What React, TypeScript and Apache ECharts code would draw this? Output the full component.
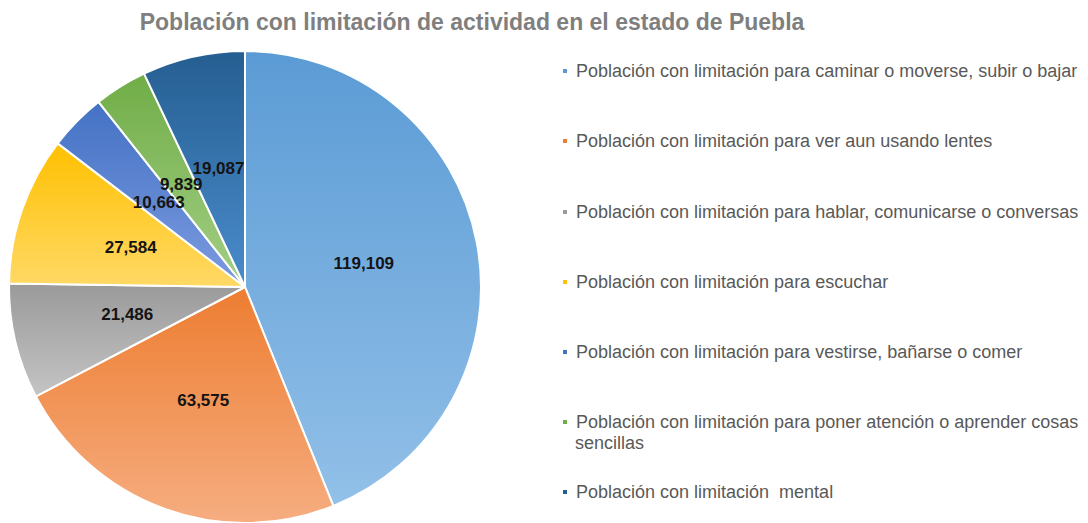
import React, { useEffect, useRef } from "react";
import * as echarts from "echarts";

const titleText = "Población con limitación de actividad en el estado de Puebla";
const categories = [
  "Población con limitación para caminar o moverse, subir o bajar",
  "Población con limitación para ver aun usando lentes",
  "Población con limitación para hablar, comunicarse o conversas",
  "Población con limitación para escuchar",
  "Población con limitación para vestirse, bañarse o comer",
  "Población con limitación para poner atención o aprender cosas",
  "Población con limitación  mental",
];
const values = [119109, 63575, 21486, 27584, 10663, 9839, 19087];
const colorsTop = ["#5b9bd5", "#ed7d31", "#9a9a9a", "#ffc000", "#4472c4", "#70ad47", "#255e91"];
const colorsBottom = ["#92c0e8", "#f6ad80", "#c4c4c4", "#ffd966", "#7c9be0", "#a3cf85", "#4a8ccc"];
const legendCenters = [71, 141, 212, 282, 352, 422, 492];
const wrapSecondLine = "sencillas";

const FONT = "Liberation Sans, Arial, sans-serif";

export default function App() {
  const ref = useRef<HTMLDivElement>(null);
  useEffect(() => {
    if (!ref.current) return;
    const chart = echarts.init(ref.current, undefined, { renderer: "svg" });
    const data = categories.map((name, i) => ({
      name,
      value: values[i],
      itemStyle: {
        color: new echarts.graphic.LinearGradient(0, 0, 0, 1, [
          { offset: 0, color: colorsTop[i] },
          { offset: 1, color: colorsBottom[i] },
        ]),
      },
    }));
    const legends = categories.map((name, i) => ({
      data: [{ name, itemStyle: { color: colorsTop[i] } }],
      left: 561,
      top: legendCenters[i] - 10,
      orient: "vertical" as const,
      icon: "rect",
      itemWidth: 6,
      itemHeight: 6,
      itemGap: 0,
      padding: 0,
      selectedMode: false,
      textStyle: {
        fontFamily: FONT,
        fontSize: 18,
        lineHeight: 20,
        color: "#595959",
        padding: [0, 0, 0, 3],
      },
    }));
    chart.setOption({
      animation: false,
      backgroundColor: "#ffffff",
      title: {
        text: titleText,
        left: 467,
        textAlign: "center",
        top: 5,
        textStyle: {
          fontFamily: FONT,
          fontSize: 23,
          fontWeight: "bold",
          color: "#7f7f7f",
        },
      },
      legend: legends,
      graphic: [
        {
          type: "text",
          left: 575,
          top: 434,
          style: {
            text: wrapSecondLine,
            fontFamily: FONT,
            fontSize: 18,
            fill: "#595959",
          },
        },
      ],
      series: [
        {
          type: "pie",
          center: [245, 287],
          radius: 236,
          startAngle: 90,
          clockwise: true,
          avoidLabelOverlap: false,
          labelLayout: { hideOverlap: false },
          itemStyle: { borderColor: "#ffffff", borderWidth: 2 },
          label: {
            show: true,
            position: "inside",
            formatter: (p: any) => Number(p.value).toLocaleString("en-US"),
            fontFamily: FONT,
            fontSize: 17,
            fontWeight: "bold",
            color: "#141414",
          },
          labelLine: { show: false },
          emphasis: { disabled: true },
          data,
        },
      ],
    });
    return () => chart.dispose();
  }, []);
  return (
    <div
      ref={ref}
      style={{ position: "fixed", left: 0, top: 0, width: 1088, height: 523 }}
    />
  );
}
